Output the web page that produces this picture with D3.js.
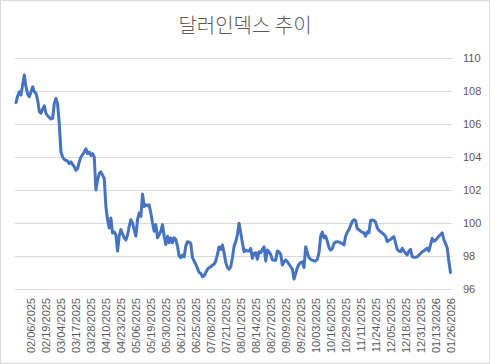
<!DOCTYPE html>
<html>
<head>
<meta charset="utf-8">
<script src="https://cdn.jsdelivr.net/npm/d3@7"></script>
<style>
  body { margin: 0; background: #fff; }
  svg { display: block; }
</style>
</head>
<body>
<script>
// Dollar index (DXY) daily closes, weekdays 01/24/2025 .. 01/26/2026

let title = "달러인덱스 추이";
let startDate = new Date(2025, 0, 24);
let endDate = new Date(2026, 0, 27);

let values = [
  107.3, 107.7, 107.95, 107.76, 108.4, 108.97, 108.26, 107.8, 107.65, 107.95,
  108.26, 107.96, 107.86, 107.45, 106.75, 106.65, 106.9, 107.1, 106.65, 106.5,
  106.4, 106.3, 106.35, 107.25, 107.55, 107.2, 106.0, 104.3, 104.0, 103.85,
  103.8, 103.75, 103.6, 103.7, 103.55, 103.4, 103.2, 103.3, 103.7, 104.0,
  104.15, 104.3, 104.5, 104.2, 104.3, 104.1, 104.2, 104.0, 102.0, 102.6,
  103.0, 103.1, 102.9, 102.7, 101.0, 100.2, 99.7, 100.3, 99.4, 99.45,
  99.3, 98.3, 99.2, 99.6, 99.35, 99.1, 98.97, 99.27, 99.8, 100.2,
  100.0, 99.6, 99.2, 100.2, 100.6, 100.4, 101.75, 101.0, 101.1, 101.05,
  101.1, 100.6, 100.0, 99.5, 99.9, 99.1, 99.3, 99.5, 99.9, 99.2,
  98.7, 99.2, 98.8, 99.1, 98.8, 99.1, 99.0, 98.6, 98.0, 97.9,
  98.06, 97.95, 98.6, 98.87, 98.85, 98.75, 97.9, 97.7, 97.5, 97.25,
  97.0, 96.95, 96.75, 96.8, 97.0, 97.2, 97.3, 97.35, 97.45, 97.5,
  97.7, 98.1, 98.55, 98.4, 98.67, 98.2, 97.6, 97.3, 97.2, 97.35,
  97.9, 98.6, 98.87, 99.3, 99.98, 99.4, 98.8, 98.26, 98.36, 98.3,
  98.3, 98.46, 97.86, 98.15, 98.2, 97.8, 98.26, 98.2, 98.4, 98.56,
  97.7, 98.36, 98.25, 98.1, 97.76, 97.75, 97.75, 98.3, 98.25, 98.1,
  97.45, 97.65, 97.76, 97.65, 97.5, 97.35, 97.2, 96.6, 96.95, 97.3,
  97.5, 97.6, 97.65, 97.3, 98.56, 98.2, 97.9, 97.8, 97.75, 97.7,
  97.7, 97.8, 98.2, 99.2, 99.45, 99.1, 99.2, 98.9, 98.5, 98.36,
  98.45, 98.75, 98.85, 98.87, 98.85, 98.8, 98.75, 98.67, 99.2, 99.45,
  99.6, 99.85, 100.1, 100.2, 100.15, 99.65, 99.6, 99.5, 99.45, 99.4,
  99.2, 99.47, 99.4, 100.15, 100.18, 100.15, 100.05, 99.7, 99.55, 99.47,
  99.4, 99.3, 99.2, 98.87, 98.95, 99.0, 99.1, 99.17, 98.8, 98.4,
  98.3, 98.26, 98.46, 98.3, 98.16, 98.06, 98.3, 98.4, 97.96, 97.92,
  97.92, 97.95, 98.05, 98.15, 98.26, 98.3, 98.4, 98.46, 98.3, 98.67,
  99.07, 98.9, 98.95, 99.07, 99.2, 99.3, 99.4, 99.0, 98.77, 98.5,
  97.7, 97.0
];

let tickLabels = [
  "02/06/2025", "02/19/2025", "03/04/2025", "03/17/2025", "03/28/2025",
  "04/10/2025", "04/23/2025", "05/06/2025", "05/19/2025", "05/30/2025",
  "06/12/2025", "06/25/2025", "07/08/2025", "07/21/2025", "08/01/2025",
  "08/14/2025", "08/27/2025", "09/09/2025", "09/22/2025", "10/03/2025",
  "10/16/2025", "10/29/2025", "11/11/2025", "11/24/2025", "12/05/2025",
  "12/18/2025", "12/31/2025", "01/13/2026", "01/26/2026"
];

let yTicks = [96, 98, 100, 102, 104, 106, 108, 110];

let width = 490;
let height = 364;

let fmt = d3.timeFormat("%m/%d/%Y");
// weekday categories
let dates = d3.timeDay.range(startDate, endDate)
  .filter(d => d.getDay() !== 0 && d.getDay() !== 6)
  .map(fmt);

let data = dates.map((d, i) => ({ date: d, value: values[i] }));

let svg = d3.select("body").append("svg")
  .attr("width", width)
  .attr("height", height);

// chart border
svg.append("rect")
  .attr("x", 0.5).attr("y", 0.5)
  .attr("width", width - 1).attr("height", height - 1)
  .attr("fill", "#fff")
  .attr("stroke", "#d9d9d9");

svg.append("text")
  .attr("x", 245)
  .attr("y", 33)
  .attr("text-anchor", "middle")
  .style("font-family", "'Noto Sans CJK KR', 'Noto Sans', sans-serif")
  .style("font-size", "20px")
  .style("font-weight", 300)
  .style("fill", "#595959")
  .text(title);

let x = d3.scalePoint()
  .domain(dates)
  .range([16, 450.5]);

let y = d3.scaleLinear()
  .domain([96, 110])
  .range([289, 58]);

// gridlines
svg.append("g")
  .selectAll("line")
  .data(yTicks)
  .join("line")
  .attr("x1", 15)
  .attr("x2", 452)
  .attr("y1", d => Math.round(y(d)) + 0.5)
  .attr("y2", d => Math.round(y(d)) + 0.5)
  .attr("stroke", "#d9d9d9")
  .attr("stroke-width", 1);

// y axis on the right
let yAxis = d3.axisRight(y).tickValues(yTicks).tickSize(0).tickPadding(11);
let gy = svg.append("g")
  .attr("transform", "translate(452,0)")
  .call(yAxis);
gy.select(".domain").remove();
gy.selectAll("text")
  .style("font-family", "'Liberation Sans', Arial, sans-serif")
  .style("font-size", "11px")
  .style("fill", "#595959");

// x axis labels, rotated
let xAxis = d3.axisBottom(x).tickValues(tickLabels).tickSize(0);
let gx = svg.append("g")
  .attr("transform", "translate(0,289)")
  .call(xAxis);
gx.select(".domain").remove();
gx.selectAll("text")
  .attr("transform", "rotate(-90)")
  .attr("x", -9)
  .attr("y", 0)
  .attr("dy", "0.35em")
  .attr("text-anchor", "end")
  .style("font-family", "'Liberation Sans', Arial, sans-serif")
  .style("font-size", "11px")
  .style("fill", "#595959");

// the line
let line = d3.line()
  .x(d => x(d.date))
  .y(d => y(d.value));

svg.append("path")
  .datum(data)
  .attr("d", line)
  .attr("fill", "none")
  .attr("stroke", "#4472C4")
  .attr("stroke-width", 3)
  .attr("stroke-linejoin", "round")
  .attr("stroke-linecap", "round");
</script>
</body>
</html>
